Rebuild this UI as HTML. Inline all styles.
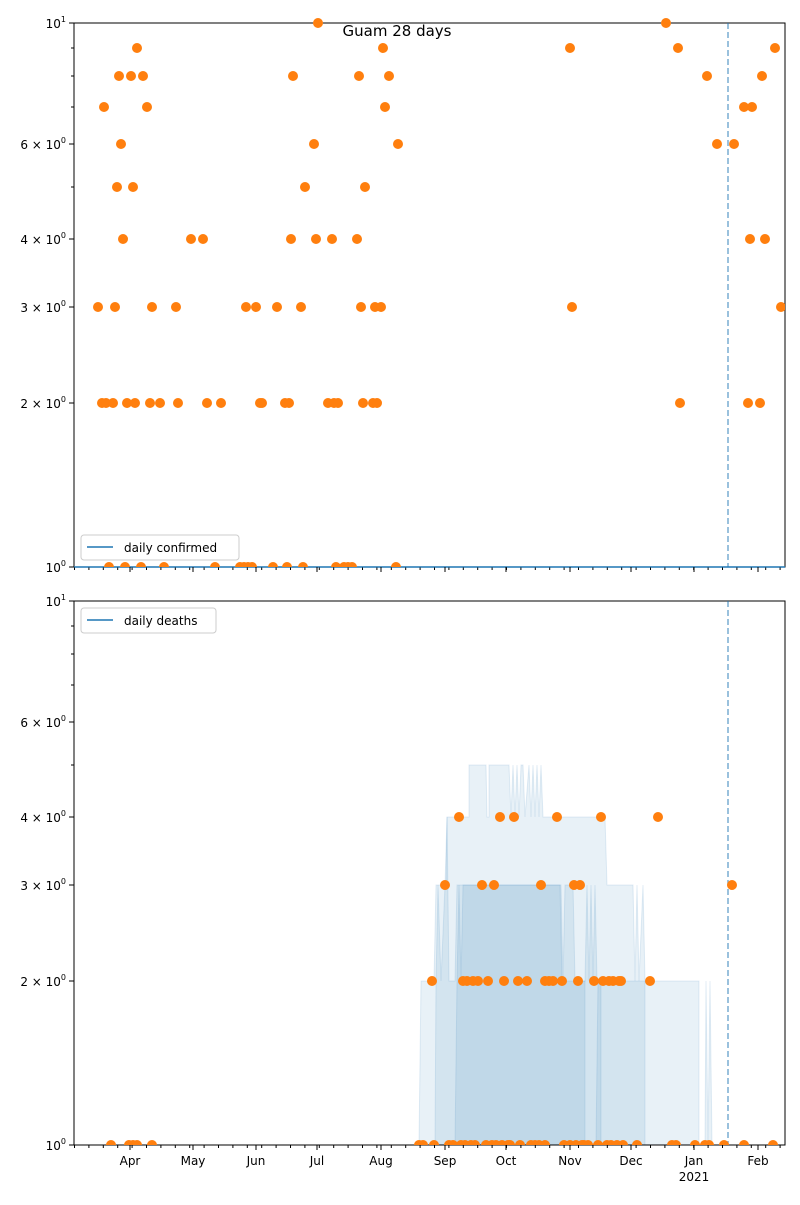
<!DOCTYPE html>
<html><head><meta charset="utf-8"><style>body{margin:0;background:#fff}svg text{font-family:"DejaVu Sans","Liberation Sans",sans-serif;}</style></head>
<body>
<svg width="800" height="1200" xmlns="http://www.w3.org/2000/svg">
<defs>
<clipPath id="c1"><rect x="74" y="10" width="711" height="557"/></clipPath>
<clipPath id="c2"><rect x="74" y="595" width="711" height="550"/></clipPath>
<pattern id="mt" x="74" y="0" width="14.4" height="10" patternUnits="userSpaceOnUse"><rect x="0" y="0" width="1" height="10" fill="#000"/></pattern>
</defs>
<rect width="800" height="1200" fill="#fff"/>
<text x="397" y="36" font-size="15" text-anchor="middle">Guam 28 days</text>

<g fill="#1f77b4" fill-opacity="0.1" stroke="#1f77b4" stroke-opacity="0.12">
<polygon points="419,1145 421,981 434,981 436,885 446,885 447,817 453,817 454,817 469,817 469,765 486,765 487,817 489,817 489,765 509,765 511,817 513,765 515,817 517,765 519,817 521,765 523,765 525,817 529,765 531,817 533,765 535,817 537,765 539,817 541,765 543,817 545,817 605,817 607,885 633,885 635,981 637,885 639,981 643,885 645,981 699,981 699,1145 705,1145 706,981 708,1145 710,981 712,1145"/>
<polygon points="435,1145 436,981 438,885 441,981 445,885 447,817 449,981 455,981 457,885 461,885 461,885 561,885 563,981 565,885 573,885 575,981 585,981 587,885 589,981 591,885 593,981 595,885 597,981 601,981 645,981 645,1145"/>
<polygon points="455,1145 457,981 459,885 461,981 463,885 560,885 562,981 585,981 585,1145"/>
<polygon points="596,1145 598,981 601,981 601,1145"/>
</g>

<g fill="none" stroke="#000" stroke-width="1">
<rect x="74" y="23" width="711" height="544"/>
<rect x="74" y="601" width="711" height="544"/>
</g>
<line x1="74" y1="567" x2="785" y2="567" stroke="#1f77b4" stroke-width="1.5"/>
<line x1="728" y1="23" x2="728" y2="567" stroke="#1f77b4" stroke-opacity="0.6" stroke-width="1.5" stroke-dasharray="6,3"/>
<line x1="728" y1="601" x2="728" y2="1145" stroke="#1f77b4" stroke-opacity="0.6" stroke-width="1.5" stroke-dasharray="6,3"/>

<rect x="74" y="567.5" width="712" height="2.5" fill="url(#mt)"/>
<rect x="74" y="1145.5" width="712" height="2.5" fill="url(#mt)"/>

<g stroke="#000">
<line x1="69" y1="23" x2="74" y2="23"/><line x1="69" y1="144" x2="74" y2="144"/><line x1="69" y1="239" x2="74" y2="239"/><line x1="69" y1="307" x2="74" y2="307"/><line x1="69" y1="403" x2="74" y2="403"/><line x1="69" y1="567" x2="74" y2="567"/>
<line x1="71" y1="48" x2="74" y2="48"/><line x1="71" y1="76" x2="74" y2="76"/><line x1="71" y1="107" x2="74" y2="107"/><line x1="71" y1="187" x2="74" y2="187"/>
<line x1="69" y1="601" x2="74" y2="601"/><line x1="69" y1="722" x2="74" y2="722"/><line x1="69" y1="817" x2="74" y2="817"/><line x1="69" y1="885" x2="74" y2="885"/><line x1="69" y1="981" x2="74" y2="981"/><line x1="69" y1="1145" x2="74" y2="1145"/>
<line x1="71" y1="626" x2="74" y2="626"/><line x1="71" y1="654" x2="74" y2="654"/><line x1="71" y1="685" x2="74" y2="685"/><line x1="71" y1="765" x2="74" y2="765"/>
</g>
<g font-size="12" text-anchor="end">
<text x="66" y="28">10<tspan font-size="8" dy="-6">1</tspan></text>
<text x="66" y="149">6 × 10<tspan font-size="8" dy="-6">0</tspan></text>
<text x="66" y="244">4 × 10<tspan font-size="8" dy="-6">0</tspan></text>
<text x="66" y="312">3 × 10<tspan font-size="8" dy="-6">0</tspan></text>
<text x="66" y="408">2 × 10<tspan font-size="8" dy="-6">0</tspan></text>
<text x="66" y="572">10<tspan font-size="8" dy="-6">0</tspan></text>
<text x="66" y="606">10<tspan font-size="8" dy="-6">1</tspan></text>
<text x="66" y="727">6 × 10<tspan font-size="8" dy="-6">0</tspan></text>
<text x="66" y="822">4 × 10<tspan font-size="8" dy="-6">0</tspan></text>
<text x="66" y="890">3 × 10<tspan font-size="8" dy="-6">0</tspan></text>
<text x="66" y="986">2 × 10<tspan font-size="8" dy="-6">0</tspan></text>
<text x="66" y="1150">10<tspan font-size="8" dy="-6">0</tspan></text>
</g>

<g stroke="#000">
<line x1="130" y1="567" x2="130" y2="572"/><line x1="193" y1="567" x2="193" y2="572"/><line x1="256" y1="567" x2="256" y2="572"/><line x1="317" y1="567" x2="317" y2="572"/><line x1="381" y1="567" x2="381" y2="572"/><line x1="445" y1="567" x2="445" y2="572"/><line x1="506" y1="567" x2="506" y2="572"/><line x1="570" y1="567" x2="570" y2="572"/><line x1="631" y1="567" x2="631" y2="572"/><line x1="694" y1="567" x2="694" y2="572"/><line x1="758" y1="567" x2="758" y2="572"/>
<line x1="130" y1="1145" x2="130" y2="1150"/><line x1="193" y1="1145" x2="193" y2="1150"/><line x1="256" y1="1145" x2="256" y2="1150"/><line x1="317" y1="1145" x2="317" y2="1150"/><line x1="381" y1="1145" x2="381" y2="1150"/><line x1="445" y1="1145" x2="445" y2="1150"/><line x1="506" y1="1145" x2="506" y2="1150"/><line x1="570" y1="1145" x2="570" y2="1150"/><line x1="631" y1="1145" x2="631" y2="1150"/><line x1="694" y1="1145" x2="694" y2="1150"/><line x1="758" y1="1145" x2="758" y2="1150"/>
</g>
<g font-size="12" text-anchor="middle">
<text x="130" y="1165">Apr</text><text x="193" y="1165">May</text><text x="256" y="1165">Jun</text><text x="317" y="1165">Jul</text><text x="381" y="1165">Aug</text><text x="445" y="1165">Sep</text><text x="506" y="1165">Oct</text><text x="570" y="1165">Nov</text><text x="631" y="1165">Dec</text><text x="694" y="1165">Jan</text><text x="758" y="1165">Feb</text><text x="694" y="1181">2021</text>
</g>

<rect x="81" y="535" width="158" height="25" rx="3" fill="#fff" fill-opacity="0.8" stroke="#ccc"/>
<line x1="87" y1="547" x2="113" y2="547" stroke="#1f77b4" stroke-width="1.5"/>
<text x="124" y="552" font-size="12">daily confirmed</text>
<rect x="81" y="608" width="135" height="25" rx="3" fill="#fff" fill-opacity="0.8" stroke="#ccc"/>
<line x1="87" y1="620" x2="113" y2="620" stroke="#1f77b4" stroke-width="1.5"/>
<text x="124" y="625" font-size="12">daily deaths</text>

<g fill="#ff7f0e" clip-path="url(#c1)">
<circle cx="98" cy="307" r="5"/><circle cx="102" cy="403" r="5"/><circle cx="104" cy="107" r="5"/><circle cx="106" cy="403" r="5"/><circle cx="109" cy="567" r="5"/><circle cx="113" cy="403" r="5"/><circle cx="115" cy="307" r="5"/><circle cx="117" cy="187" r="5"/><circle cx="119" cy="76" r="5"/><circle cx="121" cy="144" r="5"/><circle cx="123" cy="239" r="5"/><circle cx="125" cy="567" r="5"/><circle cx="127" cy="403" r="5"/><circle cx="131" cy="76" r="5"/><circle cx="133" cy="187" r="5"/><circle cx="135" cy="403" r="5"/><circle cx="137" cy="48" r="5"/><circle cx="141" cy="567" r="5"/><circle cx="143" cy="76" r="5"/><circle cx="147" cy="107" r="5"/><circle cx="150" cy="403" r="5"/><circle cx="152" cy="307" r="5"/><circle cx="160" cy="403" r="5"/><circle cx="164" cy="567" r="5"/><circle cx="176" cy="307" r="5"/><circle cx="178" cy="403" r="5"/><circle cx="191" cy="239" r="5"/><circle cx="203" cy="239" r="5"/><circle cx="207" cy="403" r="5"/><circle cx="215" cy="567" r="5"/><circle cx="221" cy="403" r="5"/><circle cx="240" cy="567" r="5"/><circle cx="244" cy="567" r="5"/><circle cx="246" cy="307" r="5"/><circle cx="248" cy="567" r="5"/><circle cx="252" cy="567" r="5"/><circle cx="256" cy="307" r="5"/><circle cx="260" cy="403" r="5"/><circle cx="262" cy="403" r="5"/><circle cx="273" cy="567" r="5"/><circle cx="277" cy="307" r="5"/><circle cx="285" cy="403" r="5"/><circle cx="287" cy="567" r="5"/><circle cx="289" cy="403" r="5"/><circle cx="291" cy="239" r="5"/><circle cx="293" cy="76" r="5"/><circle cx="301" cy="307" r="5"/><circle cx="303" cy="567" r="5"/><circle cx="305" cy="187" r="5"/><circle cx="314" cy="144" r="5"/><circle cx="316" cy="239" r="5"/><circle cx="318" cy="23" r="5"/><circle cx="328" cy="403" r="5"/><circle cx="332" cy="239" r="5"/><circle cx="334" cy="403" r="5"/><circle cx="336" cy="567" r="5"/><circle cx="338" cy="403" r="5"/><circle cx="344" cy="567" r="5"/><circle cx="348" cy="567" r="5"/><circle cx="352" cy="567" r="5"/><circle cx="357" cy="239" r="5"/><circle cx="359" cy="76" r="5"/><circle cx="361" cy="307" r="5"/><circle cx="363" cy="403" r="5"/><circle cx="365" cy="187" r="5"/><circle cx="373" cy="403" r="5"/><circle cx="375" cy="307" r="5"/><circle cx="377" cy="403" r="5"/><circle cx="381" cy="307" r="5"/><circle cx="383" cy="48" r="5"/><circle cx="385" cy="107" r="5"/><circle cx="389" cy="76" r="5"/><circle cx="396" cy="567" r="5"/><circle cx="398" cy="144" r="5"/><circle cx="570" cy="48" r="5"/><circle cx="572" cy="307" r="5"/><circle cx="666" cy="23" r="5"/><circle cx="678" cy="48" r="5"/><circle cx="680" cy="403" r="5"/><circle cx="707" cy="76" r="5"/><circle cx="717" cy="144" r="5"/><circle cx="734" cy="144" r="5"/><circle cx="744" cy="107" r="5"/><circle cx="748" cy="403" r="5"/><circle cx="750" cy="239" r="5"/><circle cx="752" cy="107" r="5"/><circle cx="760" cy="403" r="5"/><circle cx="762" cy="76" r="5"/><circle cx="765" cy="239" r="5"/><circle cx="775" cy="48" r="5"/><circle cx="781" cy="307" r="5"/>
</g>
<g fill="#ff7f0e" clip-path="url(#c2)">
<circle cx="111" cy="1145" r="5"/><circle cx="129" cy="1145" r="5"/><circle cx="133" cy="1145" r="5"/><circle cx="137" cy="1145" r="5"/><circle cx="152" cy="1145" r="5"/><circle cx="419" cy="1145" r="5"/><circle cx="423" cy="1145" r="5"/><circle cx="432" cy="981" r="5"/><circle cx="434" cy="1145" r="5"/><circle cx="445" cy="885" r="5"/><circle cx="449" cy="1145" r="5"/><circle cx="453" cy="1145" r="5"/><circle cx="459" cy="817" r="5"/><circle cx="461" cy="1145" r="5"/><circle cx="463" cy="981" r="5"/><circle cx="465" cy="1145" r="5"/><circle cx="467" cy="981" r="5"/><circle cx="471" cy="1145" r="5"/><circle cx="473" cy="981" r="5"/><circle cx="475" cy="1145" r="5"/><circle cx="478" cy="981" r="5"/><circle cx="482" cy="885" r="5"/><circle cx="486" cy="1145" r="5"/><circle cx="488" cy="981" r="5"/><circle cx="492" cy="1145" r="5"/><circle cx="494" cy="885" r="5"/><circle cx="496" cy="1145" r="5"/><circle cx="500" cy="817" r="5"/><circle cx="502" cy="1145" r="5"/><circle cx="504" cy="981" r="5"/><circle cx="508" cy="1145" r="5"/><circle cx="510" cy="1145" r="5"/><circle cx="514" cy="817" r="5"/><circle cx="518" cy="981" r="5"/><circle cx="520" cy="1145" r="5"/><circle cx="527" cy="981" r="5"/><circle cx="531" cy="1145" r="5"/><circle cx="535" cy="1145" r="5"/><circle cx="539" cy="1145" r="5"/><circle cx="541" cy="885" r="5"/><circle cx="545" cy="1145" r="5"/><circle cx="545" cy="981" r="5"/><circle cx="549" cy="981" r="5"/><circle cx="553" cy="981" r="5"/><circle cx="557" cy="817" r="5"/><circle cx="562" cy="981" r="5"/><circle cx="564" cy="1145" r="5"/><circle cx="570" cy="1145" r="5"/><circle cx="574" cy="885" r="5"/><circle cx="576" cy="1145" r="5"/><circle cx="578" cy="981" r="5"/><circle cx="580" cy="885" r="5"/><circle cx="582" cy="1145" r="5"/><circle cx="584" cy="1145" r="5"/><circle cx="588" cy="1145" r="5"/><circle cx="594" cy="981" r="5"/><circle cx="598" cy="1145" r="5"/><circle cx="601" cy="817" r="5"/><circle cx="603" cy="981" r="5"/><circle cx="607" cy="1145" r="5"/><circle cx="609" cy="981" r="5"/><circle cx="611" cy="1145" r="5"/><circle cx="613" cy="981" r="5"/><circle cx="617" cy="1145" r="5"/><circle cx="619" cy="981" r="5"/><circle cx="621" cy="981" r="5"/><circle cx="623" cy="1145" r="5"/><circle cx="637" cy="1145" r="5"/><circle cx="650" cy="981" r="5"/><circle cx="658" cy="817" r="5"/><circle cx="672" cy="1145" r="5"/><circle cx="676" cy="1145" r="5"/><circle cx="695" cy="1145" r="5"/><circle cx="705" cy="1145" r="5"/><circle cx="709" cy="1145" r="5"/><circle cx="724" cy="1145" r="5"/><circle cx="732" cy="885" r="5"/><circle cx="744" cy="1145" r="5"/><circle cx="773" cy="1145" r="5"/>
</g>
</svg>
</body></html>
